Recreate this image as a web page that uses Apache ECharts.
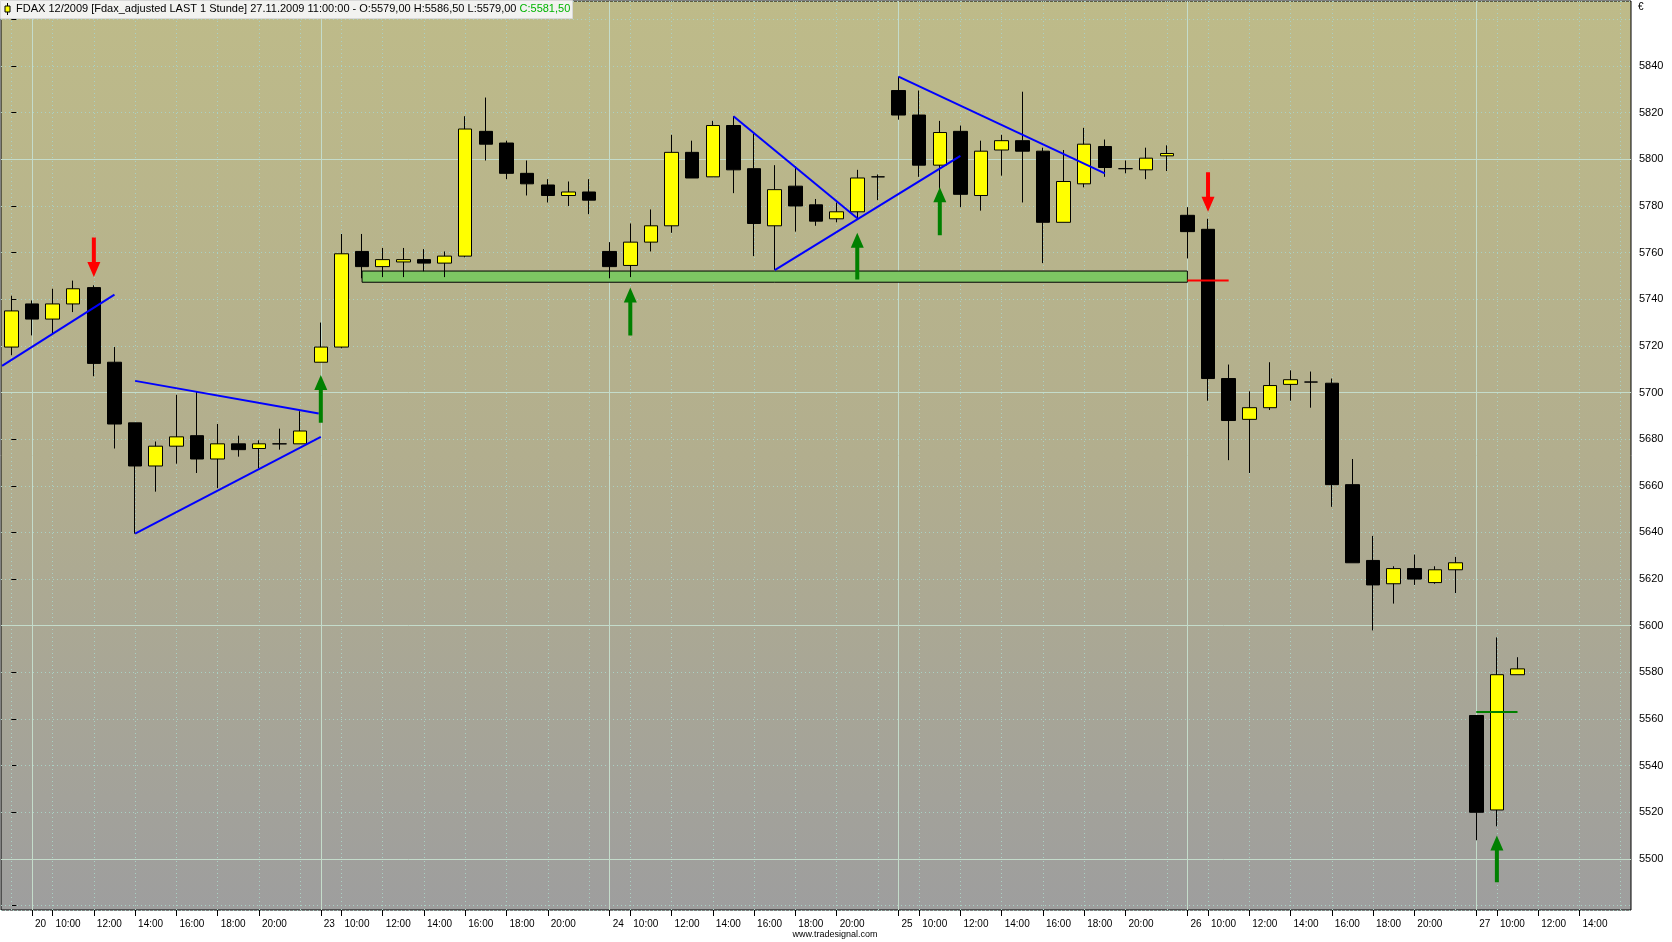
<!DOCTYPE html>
<html>
<head>
<meta charset="utf-8">
<script src="https://cdn.jsdelivr.net/npm/echarts@6/dist/echarts.min.js"></script>
<style>
html,body{margin:0;padding:0;background:#fff;}
#chart{width:1672px;height:942px;}
</style>
</head>
<body>
<div id="chart"></div>
<script>
// ---------- data ----------
const firstBar = '19 22:00';
const days = ['20', '23', '24', '25', '26', '27'];
const sessionHours = ['09','10','11','12','13','14','15','16','17','18','19','20','21','22'];
const barCount = 79; // visible slots on the time axis

const openVals  = [5719.5,5738,5731.5,5738,5745,5713,5687,5668.5,5677,5681.5,5671.5,5678,5676,5678,5678,
                   5713,5719.5,5760.5,5754,5756,5757,5755.5,5758.5,5812,5807,5794,5789,5784.5,5786,
                   5760.5,5754.5,5764.5,5771.5,5803,5792.5,5814.5,5796,5771.5,5788.5,5780.5,5774.5,5777.5,5792.5,
                   5829.5,5819,5797.5,5812,5784.5,5804,5808,5803.5,5773,5789.5,5805.5,5796,5795.5,5801.5,
                   5776,5770,5706,5688.5,5693.5,5703.5,5704.5,5704,5660.5,5628,5618,5624.5,5618.5,5624,
                   5561.5,5521,5579];
const highVals  = [5741.5,5739.5,5744.5,5748,5746,5719.5,5687,5679,5699,5700.5,5686.5,5681.5,5679.5,5684.5,5692,
                   5730,5768,5768,5762,5762,5761.5,5760.5,5818.5,5826.5,5808,5799.5,5791.5,5790.5,5791.5,
                   5764.5,5772.5,5778.5,5810.5,5808,5816.5,5818.5,5811,5797.5,5797,5783,5781.5,5795.5,5793.5,
                   5835.5,5829.5,5816.5,5814.5,5808,5810.5,5829,5805,5804,5813.5,5808.5,5799.5,5805,5806,
                   5779.5,5774.5,5712,5700.5,5713,5709.5,5709,5706,5671.5,5638.5,5625.5,5630.5,5625.5,5629.5,
                   5561.5,5595,5586.5];
const lowVals   = [5716,5724.5,5725.5,5734.5,5707,5676,5639.5,5657.5,5669.5,5665.5,5659,5672.5,5667.5,5675.5,5678,
                   5713,5719,5749,5749.5,5749.5,5752,5749.5,5758,5799.5,5791.5,5784.5,5781.5,5780,5776.5,
                   5749,5749.5,5760.5,5768.5,5792,5792.5,5785.5,5758.5,5752.5,5769,5771.5,5773,5774,5782.5,
                   5817,5792.5,5786.5,5779.5,5778,5793,5781.5,5755.5,5773,5788,5792.5,5794,5791.5,5795,
                   5757.5,5696.5,5671,5665.5,5692.5,5696.5,5693.5,5651,5627,5598,5609.5,5617.5,5618,5614,
                   5508,5514,5579];
const closeVals = [5735,5731.5,5738,5744.5,5712.5,5686.5,5668.5,5677,5681,5671.5,5678,5675.5,5678,5678,5683.5,
                   5719.5,5759.5,5754,5757,5757,5755.5,5758.5,5813,5806.5,5794,5789.5,5784.5,5786,5782.5,
                   5754,5764.5,5771.5,5803,5792,5814.5,5795.5,5772.5,5787,5780,5773.5,5777.5,5792,5792.5,
                   5819,5797.5,5811.5,5785,5803.5,5808,5803.5,5773,5790.5,5806.5,5796.5,5796,5800.5,5802.5,
                   5769,5706,5688,5693.5,5703,5705.5,5704.5,5660.5,5627,5617.5,5624.5,5620,5624,5627,
                   5520,5579,5581.5];

// y axis tick labels shown on the right
const yTickLabels = [5500,5520,5540,5560,5580,5600,5620,5640,5660,5680,5700,5720,5740,5760,5780,5800,5820,5840];
const yMajorLevels = [5500, 5600, 5700, 5800];

// drawings: trend lines [x0, y0, x1, y1] (x = bar index)
const blueLines = [
  [-0.45, 5711.4, 5.0, 5742],
  [6, 5705, 14.9, 5691],
  [6, 5639.5, 15, 5681],
  [35, 5818.5, 41, 5774.7],
  [37, 5752.5, 46, 5801.5],
  [43, 5835.5, 53, 5794]
];
// support zone [xStart, xEnd, low, high]
const supportZone = [[17, 57, 5747.3, 5752.1]];
// horizontal marker lines [x0, x1, level]
const redLevel = [[57, 59, 5748]];
const greenLevel = [[71, 73, 5563]];
// arrows [barIndex, tail, tip]
const sellArrows = [[4, 5766.5, 5749.5], [58, 5794.5, 5777.5]];
const buyArrows = [[15, 5687, 5707.5], [30, 5724.5, 5745], [41, 5748.5, 5768.5], [45, 5767.5, 5788], [72, 5490, 5510]];

const titleMain = 'FDAX 12/2009 [Fdax_adjusted LAST 1 Stunde] 27.11.2009 11:00:00 - O:5579,00 H:5586,50 L:5579,00 ';
const titleClose = 'C:5581,50';

// ---------- build ----------
const categories = [firstBar].concat(
  days.flatMap(d => sessionHours.map(h => d + ' ' + h + ':00'))
).slice(0, barCount);

function labelFor(cat, i) {
  const [d, t] = cat.split(' ');
  const h = parseInt(t, 10);
  if (cat === firstBar) return '';
  if (i > barCount - 3) return ''; // no room left at the right edge
  if (h === 9) return d;
  if (h % 2 === 0 && h <= 20) return t;
  return '';
}
const xLabels = categories.map(labelFor);
const dayStartIdx = categories.map((c, i) => c.endsWith('09:00') ? i : -1).filter(i => i >= 0);
const evenHourIdx = categories.map((c, i) => parseInt(c.split(' ')[1], 10) % 2 === 0 ? i : -1).filter(i => i >= 0);

const candleData = openVals.map((o, i) => [o, closeVals[i], lowVals[i], highVals[i]]);

const FONT = 'Liberation Sans';
const yMin = 5478.1, yMax = 5867.9;

const chart = echarts.init(document.getElementById('chart'), null, {renderer: 'canvas'});

function arrowRender(color, down) {
  return function (params, api) {
    const idx = api.value(0);
    const tail = api.coord([idx, api.value(1)]);
    const tip = api.coord([idx, api.value(2)]);
    const x = tip[0];
    const dir = down ? 1 : -1;
    const headLen = 15, headHalf = 6.5, shaftHalf = 2;
    const baseY = tip[1] - dir * headLen;
    const pts = [
      [x - shaftHalf, tail[1]], [x + shaftHalf, tail[1]],
      [x + shaftHalf, baseY], [x + headHalf, baseY],
      [x, tip[1]],
      [x - headHalf, baseY], [x - shaftHalf, baseY]
    ];
    return {type: 'polygon', shape: {points: pts}, style: {fill: color, stroke: null}};
  };
}

const series = [];
// grid lines via markLine (kept under the candles)
series.push({
  type: 'line', xAxisIndex: 1, yAxisIndex: 0, data: [], z: 1, zlevel: 0, silent: true,
  markLine: {
    z: 1, silent: true, symbol: ['none', 'none'], label: {show: false}, animation: false,
    data: []
      .concat(evenHourIdx.map(i => ({xAxis: i, lineStyle: {color: '#a9d2c6', type: [1, 3], width: 1}})))
      .concat(dayStartIdx.map(i => ({xAxis: i, lineStyle: {color: '#c4dccb', type: 'solid', width: 1}})))
      .concat(yMajorLevels.map(v => ({yAxis: v, lineStyle: {color: '#c4dccb', type: 'solid', width: 1}})))
  }
});
// support zone
series.push({
  type: 'custom', xAxisIndex: 1, yAxisIndex: 0, z: 3, silent: true, data: supportZone,
  renderItem: function (params, api) {
    const p0 = api.coord([api.value(0), api.value(3)]);
    const p1 = api.coord([api.value(1), api.value(2)]);
    return {type: 'rect', shape: {x: p0[0], y: p0[1], width: p1[0] - p0[0], height: p1[1] - p0[1]},
      style: {fill: '#7dc763', stroke: '#000', lineWidth: 1}};
  }
});
// candles
series.push({
  type: 'candlestick', xAxisIndex: 0, yAxisIndex: 0, z: 4, data: candleData, barWidth: 14,
  silent: true,
  itemStyle: {color: '#ffff00', color0: '#000000', borderColor: '#000', borderColor0: '#000', borderColorDoji: '#000', borderWidth: 1}
});
// blue trend lines
blueLines.forEach(l => series.push({
  type: 'line', xAxisIndex: 1, yAxisIndex: 0, z: 6, silent: true, symbol: 'none',
  data: [[l[0], l[1]], [l[2], l[3]]], lineStyle: {color: '#0000ff', width: 2}
}));
redLevel.forEach(l => series.push({
  type: 'line', xAxisIndex: 1, yAxisIndex: 0, z: 6, silent: true, symbol: 'none',
  data: [[l[0], l[2]], [l[1], l[2]]], lineStyle: {color: '#ff0000', width: 2}
}));
greenLevel.forEach(l => series.push({
  type: 'line', xAxisIndex: 1, yAxisIndex: 0, z: 6, silent: true, symbol: 'none',
  data: [[l[0], l[2]], [l[1], l[2]]], lineStyle: {color: '#008000', width: 2}
}));
series.push({type: 'custom', xAxisIndex: 1, yAxisIndex: 0, z: 7, silent: true, data: sellArrows, renderItem: arrowRender('#ff0000', true)});
series.push({type: 'custom', xAxisIndex: 1, yAxisIndex: 0, z: 7, silent: true, data: buyArrows, renderItem: arrowRender('#008000', false)});

const option = {
  animation: false,
  backgroundColor: '#ffffff',
  grid: {
    left: 1, top: 1, width: 1630, height: 909, show: true,
    borderColor: '#000', borderWidth: 1,
    backgroundColor: new echarts.graphic.LinearGradient(0, 0, 0, 1, [
      {offset: 0, color: '#bebb89'},
      {offset: 0.5, color: '#b2ae8e'},
      {offset: 1, color: '#9e9e9e'}
    ])
  },
  xAxis: [
    {
      type: 'category', data: categories, boundaryGap: true, position: 'bottom',
      axisLine: {show: false},
      axisTick: {show: true, alignWithLabel: true, length: 6, lineStyle: {color: '#000'},
        interval: function (i) { return xLabels[i] !== ''; }},
      axisLabel: {interval: 0, color: '#000', fontFamily: FONT, fontSize: 10, align: 'left',
        margin: 9, padding: [0, 0, 0, 3],
        formatter: function (v, i) { return xLabels[i]; }},
      splitLine: {show: false}
    },
    {type: 'value', min: -0.5, max: barCount - 0.5, show: false}
  ],
  yAxis: [{
    type: 'value', position: 'right', min: yMin, max: yMax, scale: true,
    splitNumber: 20, minInterval: 20, maxInterval: 20,
    axisLine: {show: false},
    axisTick: {show: true, length: 5, lineStyle: {color: '#000'}, interval: 0},
    axisLabel: {color: '#000', fontFamily: FONT, fontSize: 11, margin: 8, showMinLabel: false, showMaxLabel: false,
      formatter: function (v) { return yTickLabels.indexOf(Math.round(v)) >= 0 && Math.abs(v - Math.round(v)) < 1e-6 ? String(Math.round(v)) : ''; }},
    splitLine: {show: true, lineStyle: {color: '#a9d2c6', type: [1, 3], width: 1}}
  }],
  series: series,
  graphic: [
    {type: 'rect', left: 0, top: 0, shape: {width: 572, height: 18}, style: {fill: '#f2f2f0', stroke: '#d8d8d8'}, z: 100},
    {type: 'line', shape: {x1: 7.5, y1: 3, x2: 7.5, y2: 15}, style: {stroke: '#000', lineWidth: 1}, z: 101},
    {type: 'rect', shape: {x: 5, y: 6, width: 5, height: 6}, style: {fill: '#ffff00', stroke: '#000', lineWidth: 1}, z: 102},
    {type: 'text', x: 16, y: 3, z: 101, style: {
      text: '{a|' + titleMain + '}{b|' + titleClose + '}',
      rich: {a: {fill: '#000', fontFamily: FONT, fontSize: 11}, b: {fill: '#00b400', fontFamily: FONT, fontSize: 11}},
      font: '11px ' + FONT
    }},
    {type: 'text', x: 1638, y: 2, z: 101, style: {text: '€', fill: '#000', font: '10px ' + FONT}},
    {type: 'text', x: 835, y: 930, z: 101, style: {text: 'www.tradesignal.com', fill: '#000', font: '9px ' + FONT, textAlign: 'center'}}
  ]
};
chart.setOption(option);
</script>
</body>
</html>
